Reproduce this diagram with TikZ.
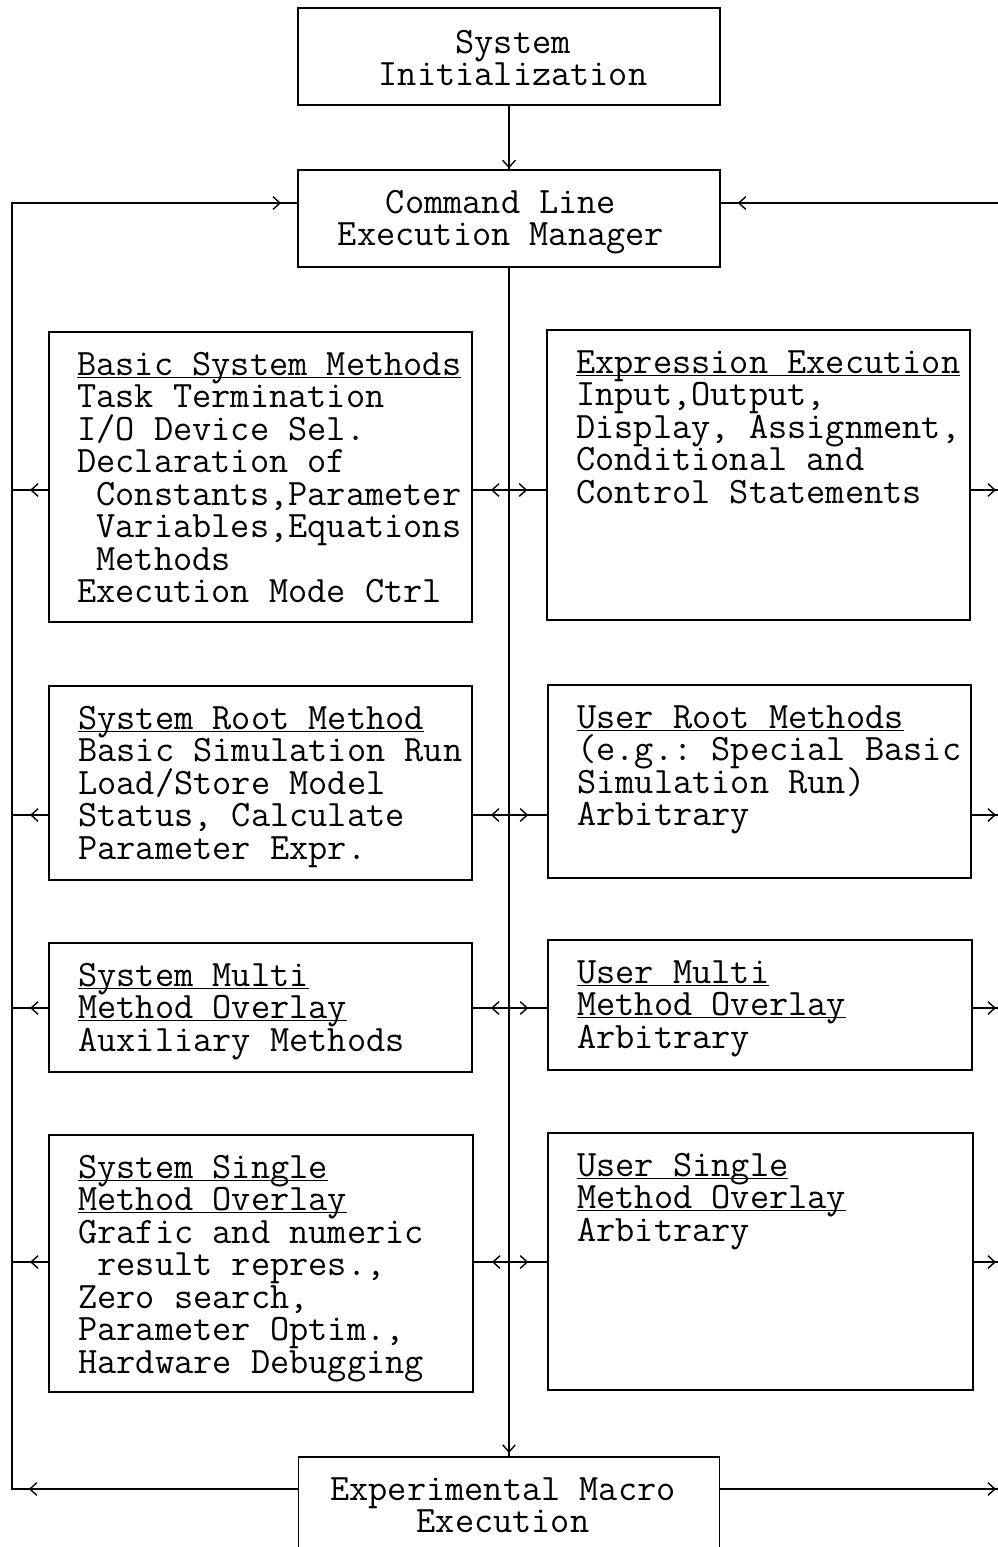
\documentclass[tikz,border=0pt]{standalone}
\usetikzlibrary{arrows.meta,decorations.markings}

\newcommand\hdl[1]{\underline{\raisebox{0pt}[\height][0pt]{#1}}}
\newcommand\ltext[1]{\parbox[t]{9.9cm}{\lineskiplimit=-50pt\raggedright #1}}
\newcommand\ctext[1]{\parbox[t]{9.9cm}{\lineskiplimit=-50pt\centering #1}}
\lineskiplimit=-50pt
\frenchspacing

\tikzset{
  blk/.style={draw,line width=1.2pt,minimum width=#1,inner sep=0pt},
  txt/.style={anchor=base west,inner sep=0pt,
    font=\ttfamily\fontsize{26.5pt}{23.1pt}\selectfont},
  ctxt/.style={txt,anchor=base},
  wire/.style={line width=1pt},
  tipnear/.style={postaction={decorate,decoration={markings,
    mark=at position -#1 with {\arrow{Straight Barb[length=5pt,width=9pt]}}}}},
  tipafter/.style={postaction={decorate,decoration={markings,
    mark=at position #1 with {\arrow{Straight Barb[length=5pt,width=9pt]}}}}},
}

\begin{document}
\begin{tikzpicture}[x=0.025cm,y=-0.025cm]
 \clip (0,0) rectangle (998,1547);
 % boxes
 \node[blk=10.55cm,minimum height=2.425cm] (init) at (509,56.5) {};
 \node[blk=10.55cm,minimum height=2.425cm] (clem) at (509,218.5) {};
 \node[blk=10.575cm,minimum height=7.25cm] (bsm) at (260.5,477) {};
 \node[blk=10.575cm,minimum height=7.25cm] (exe) at (758.5,475) {};
 \node[blk=10.575cm,minimum height=4.85cm] (srm) at (260.5,783) {};
 \node[blk=10.575cm,minimum height=4.825cm] (urm) at (759.5,781.5) {};
 \node[blk=10.575cm,minimum height=3.225cm] (smo) at (260.5,1007.5) {};
 \node[blk=10.6cm,minimum height=3.25cm] (umo) at (760,1005) {};
 \node[blk=10.6cm,minimum height=6.425cm] (sso) at (261,1263.5) {};
 \node[blk=10.625cm,minimum height=6.425cm] (uso) at (760.5,1261.5) {};
 \node[blk=10.525cm,minimum height=2.425cm] (eme) at (509,1505.5) {};

 % texts
 \node[ctxt] (init-t) at ([xshift=0.1cm,yshift=-1.15cm]init.north) {\ctext{System\\Initialization}};
 \node[ctxt] (clem-t) at ([xshift=-0.2cm,yshift=-1.1cm]clem.north) {\ctext{Command Line\\Execution Manager}};
 \node[ctxt] (eme-t) at ([xshift=-0.15cm,yshift=-1.1cm]eme.north) {\ctext{Experimental Macro\\Execution}};
 \node[txt] (bsm-t) at ([xshift=0.725cm,yshift=-1.1cm]bsm.north west)
  {\ltext{\hdl{Basic System Methods}\\Task Termination\\I/O Device Sel.\\Declaration of\\
   ~Constants,Parameter\\~Variables,Equations\\~Methods\\Execution Mode Ctrl}};
 \node[txt] (exe-t) at ([xshift=0.75cm,yshift=-1.1cm]exe.north west)
  {\ltext{\hdl{Expression Execution}\\Input,Output,\\Display, Assignment,\\Conditional and\\
   Control Statements}};
 \node[txt] (srm-t) at ([xshift=0.75cm,yshift=-1.1cm]srm.north west)
  {\ltext{\hdl{System Root Method}\\Basic Simulation Run\\Load/Store Model\\Status, Calculate\\
   Parameter Expr.}};
 \node[txt] (urm-t) at ([xshift=0.75cm,yshift=-1.1cm]urm.north west)
  {\ltext{\hdl{User Root Methods}\\(e.g.: Special Basic\\Simulation Run)\\Arbitrary}};
 \node[txt] (smo-t) at ([xshift=0.75cm,yshift=-1.1cm]smo.north west)
  {\ltext{\hdl{System Multi}\\\hdl{Method Overlay}\\Auxiliary Methods}};
 \node[txt] (umo-t) at ([xshift=0.75cm,yshift=-1.1cm]umo.north west)
  {\ltext{\hdl{User Multi}\\\hdl{Method Overlay}\\Arbitrary}};
 \node[txt] (sso-t) at ([xshift=0.75cm,yshift=-1.1cm]sso.north west)
  {\ltext{\hdl{System Single}\\\hdl{Method Overlay}\\Grafic and numeric\\~result repres.,\\
   Zero search,\\Parameter Optim.,\\Hardware Debugging}};
 \node[txt] (uso-t) at ([xshift=0.75cm,yshift=-1.1cm]uso.north west)
  {\ltext{\hdl{User Single}\\\hdl{Method Overlay}\\Arbitrary}};

 % wire points
 \coordinate (lt) at (12,203);
 \coordinate (rt) at (998,203);
 \coordinate (lb) at (12,1489);
 \coordinate (rb) at (998,1489);
 \coordinate (r1) at (509,490);
 \coordinate (r2) at (509,815);
 \coordinate (r3) at (509,1008);
 \coordinate (r4) at (509,1262);

 % main flow
 \draw[wire,tipnear=0.02cm] (init.south) -- (clem.north);
 \draw[wire,tipnear=0.08cm] (clem.south) -- (eme.north);
 \draw[wire,tipafter=6.72cm,tipnear=0.4cm] (lb -| eme.west) -- (lb) -- (lt) -- (lt -| clem.west);
 \draw[wire,tipnear=0.42cm] (rt) -- (rt -| clem.east);
 \draw[wire,tipnear=0.05cm] (rb -| eme.east) -- (rb);

 % rows
 \draw[wire,tipnear=0.45cm] (r1) -- (r1 -| bsm.east);
 \draw[wire,tipnear=0.47cm] (r1) -- (r1 -| exe.west);
 \draw[wire,tipnear=0.45cm] (r1 -| bsm.west) -- (r1 -| lb);
 \draw[wire,tipnear=0.05cm] (r1 -| exe.east) -- (r1 -| rb);

 \draw[wire,tipnear=0.45cm] (r2) -- (r2 -| srm.east);
 \draw[wire,tipnear=0.47cm] (r2) -- (r2 -| urm.west);
 \draw[wire,tipnear=0.45cm] (r2 -| srm.west) -- (r2 -| lb);
 \draw[wire,tipnear=0.05cm] (r2 -| urm.east) -- (r2 -| rb);

 \draw[wire,tipnear=0.45cm] (r3) -- (r3 -| smo.east);
 \draw[wire,tipnear=0.47cm] (r3) -- (r3 -| umo.west);
 \draw[wire,tipnear=0.45cm] (r3 -| smo.west) -- (r3 -| lb);
 \draw[wire,tipnear=0.05cm] (r3 -| umo.east) -- (r3 -| rb);

 \draw[wire,tipnear=0.45cm] (r4) -- (r4 -| sso.east);
 \draw[wire,tipnear=0.47cm] (r4) -- (r4 -| uso.west);
 \draw[wire,tipnear=0.45cm] (r4 -| sso.west) -- (r4 -| lb);
 \draw[wire,tipnear=0.05cm] (r4 -| uso.east) -- (r4 -| rb);
\end{tikzpicture}
\end{document}
